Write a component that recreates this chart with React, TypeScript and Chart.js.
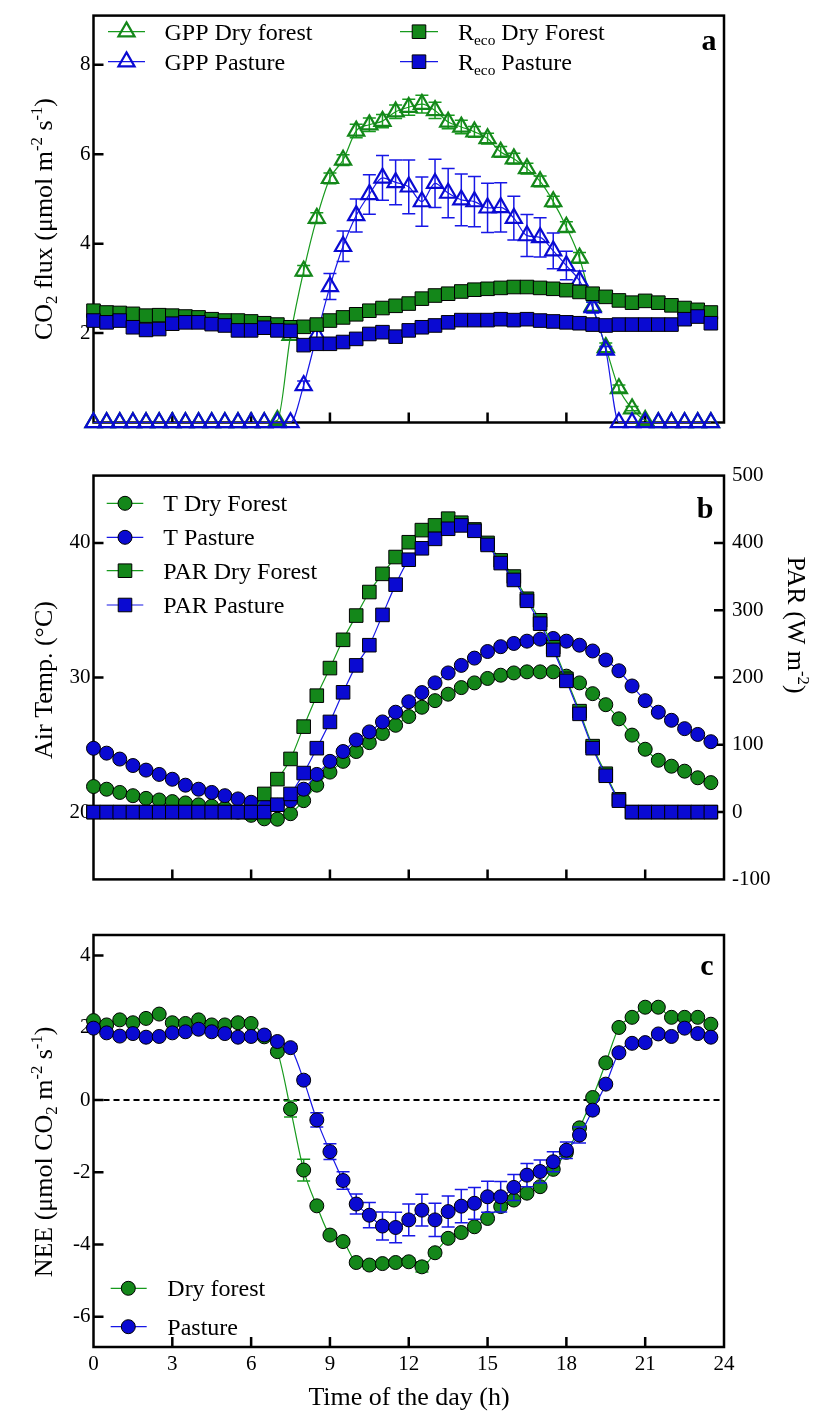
import React, { useEffect, useRef } from "react";
import { Chart, registerables } from "chart.js";
Chart.register(...registerables);

const FONT = "'Liberation Serif', 'Times New Roman', Times, serif";
const GREEN = "#14871a";
const BLUE = "#0a0ad2";
const GREEN_LINE = "#179a1d";
const BLUE_LINE = "#1717e6";

// ---------- data ----------
const hours = [0, 0.5, 1, 1.5, 2, 2.5, 3, 3.5, 4, 4.5, 5, 5.5, 6, 6.5, 7, 7.5, 8, 8.5, 9, 9.5, 10, 10.5, 11, 11.5, 12, 12.5, 13, 13.5, 14, 14.5, 15, 15.5, 16, 16.5, 17, 17.5, 18, 18.5, 19, 19.5, 20, 20.5, 21, 21.5, 22, 22.5, 23, 23.5];

const xTicks = [0, 3, 6, 9, 12, 15, 18, 21, 24];
const yTicksA = [2, 4, 6, 8];
const yTicksB = [20, 30, 40];
const parTicks = [-100, 0, 100, 200, 300, 400, 500];
const yTicksC = [-6, -4, -2, 0, 2, 4];

// panel a
const gppDry = [0, 0, 0, 0, 0, 0, 0, 0, 0, 0, 0, 0, 0, 0, 0.05, 1.95, 3.39, 4.57, 5.46, 5.87, 6.52, 6.66, 6.74, 6.95, 7.05, 7.12, 6.98, 6.72, 6.61, 6.5, 6.35, 6.05, 5.9, 5.68, 5.39, 4.94, 4.37, 3.68, 2.6, 1.68, 0.76, 0.31, 0.05, 0, 0, 0, 0, 0];
const gppDryErr = [0, 0, 0, 0, 0, 0, 0, 0, 0, 0, 0, 0, 0, 0, 0, 0.1, 0.12, 0.12, 0.12, 0.12, 0.15, 0.15, 0.15, 0.15, 0.18, 0.2, 0.18, 0.15, 0.15, 0.12, 0.12, 0.12, 0.12, 0.12, 0.12, 0.12, 0.12, 0.12, 0.1, 0.1, 0.08, 0.05, 0, 0, 0, 0, 0, 0];
const gppPasture = [0, 0, 0, 0, 0, 0, 0, 0, 0, 0, 0, 0, 0, 0, 0, 0, 0.83, 1.95, 3.04, 3.94, 4.63, 5.1, 5.47, 5.37, 5.27, 4.94, 5.35, 5.13, 4.98, 4.94, 4.8, 4.81, 4.57, 4.18, 4.14, 3.84, 3.51, 3.17, 2.57, 1.62, 0, 0, 0, 0, 0, 0, 0, 0];
const gppPastureErr = [0, 0, 0, 0, 0, 0, 0, 0, 0, 0, 0, 0, 0, 0, 0, 0, 0.1, 0.2, 0.29, 0.34, 0.37, 0.44, 0.5, 0.5, 0.6, 0.55, 0.54, 0.55, 0.58, 0.56, 0.55, 0.55, 0.49, 0.47, 0.44, 0.4, 0.32, 0.22, 0.12, 0.08, 0, 0, 0, 0, 0, 0, 0, 0];
const recoDry = [2.5, 2.46, 2.45, 2.43, 2.39, 2.4, 2.39, 2.37, 2.35, 2.31, 2.28, 2.28, 2.26, 2.22, 2.19, 2.13, 2.14, 2.19, 2.28, 2.35, 2.42, 2.5, 2.56, 2.61, 2.66, 2.77, 2.84, 2.88, 2.93, 2.97, 2.99, 3.01, 3.03, 3.03, 3.01, 2.99, 2.96, 2.92, 2.88, 2.81, 2.73, 2.68, 2.72, 2.68, 2.62, 2.56, 2.52, 2.46];
const recoPasture = [2.28, 2.24, 2.28, 2.13, 2.07, 2.09, 2.21, 2.24, 2.24, 2.2, 2.17, 2.06, 2.06, 2.12, 2.06, 2.05, 1.73, 1.76, 1.76, 1.8, 1.87, 1.98, 2.02, 1.92, 2.06, 2.13, 2.17, 2.24, 2.29, 2.29, 2.29, 2.31, 2.29, 2.31, 2.28, 2.26, 2.24, 2.22, 2.19, 2.17, 2.19, 2.19, 2.19, 2.19, 2.19, 2.31, 2.37, 2.22];

// panel b
const tDry = [21.9, 21.7, 21.46, 21.22, 21.02, 20.9, 20.78, 20.68, 20.54, 20.44, 20.29, 20.0, 19.76, 19.5, 19.47, 19.88, 20.85, 22.0, 22.97, 23.77, 24.5, 25.16, 25.84, 26.45, 27.1, 27.79, 28.28, 28.76, 29.25, 29.6, 29.93, 30.17, 30.34, 30.42, 30.42, 30.42, 30.1, 29.6, 28.8, 27.98, 26.93, 25.72, 24.67, 23.85, 23.41, 23.04, 22.55, 22.19];
const tPasture = [24.74, 24.38, 23.94, 23.46, 23.12, 22.8, 22.44, 22.0, 21.7, 21.46, 21.22, 20.98, 20.73, 20.55, 20.5, 20.85, 21.7, 22.8, 23.77, 24.5, 25.36, 25.96, 26.7, 27.42, 28.2, 28.88, 29.6, 30.34, 30.9, 31.44, 31.93, 32.29, 32.53, 32.7, 32.85, 32.9, 32.7, 32.4, 31.97, 31.3, 30.5, 29.37, 28.28, 27.42, 26.82, 26.2, 25.77, 25.23];
const parDry = [0, 0, 0, 0, 0, 0, 0, 0, 0, 0, 0, 0, 0, 27, 49, 79, 127, 173, 214, 256, 292, 327, 354, 379, 401, 419, 426, 436, 430, 420, 400, 374, 350, 317, 285, 245, 198, 150, 98, 57, 19, 0, 0, 0, 0, 0, 0, 0];
const parPasture = [0, 0, 0, 0, 0, 0, 0, 0, 0, 0, 0, 0, 0, 0, 11, 27, 58, 95, 134, 178, 218, 248, 293, 338, 375, 392, 406, 421, 426, 418, 397, 370, 345, 314, 280, 241, 195, 146, 95, 54, 17, 0, 0, 0, 0, 0, 0, 0];

// panel c
const neeDry = [2.2, 2.08, 2.22, 2.14, 2.26, 2.38, 2.14, 2.12, 2.22, 2.08, 2.08, 2.14, 2.12, 1.75, 1.34, -0.25, -1.94, -2.93, -3.74, -3.92, -4.5, -4.57, -4.53, -4.5, -4.48, -4.62, -4.23, -3.83, -3.67, -3.51, -3.28, -2.95, -2.77, -2.58, -2.4, -1.92, -1.45, -0.77, 0.07, 1.03, 2.01, 2.29, 2.57, 2.57, 2.29, 2.29, 2.29, 2.1];
const neeDryErr = [0.04, 0.04, 0.04, 0.04, 0.04, 0.04, 0.04, 0.04, 0.04, 0.04, 0.04, 0.04, 0.04, 0.05, 0.08, 0.22, 0.3, 0.06, 0.05, 0.05, 0.06, 0.1, 0.1, 0.1, 0.1, 0.14, 0.1, 0.08, 0.08, 0.06, 0.06, 0.06, 0.06, 0.06, 0.06, 0.08, 0.1, 0.1, 0.06, 0.05, 0.05, 0.05, 0.05, 0.05, 0.05, 0.05, 0.05, 0.05];
const neePasture = [1.99, 1.86, 1.77, 1.84, 1.74, 1.76, 1.86, 1.89, 1.96, 1.89, 1.84, 1.74, 1.76, 1.8, 1.62, 1.45, 0.55, -0.55, -1.43, -2.23, -2.88, -3.19, -3.49, -3.53, -3.32, -3.05, -3.32, -3.09, -2.94, -2.86, -2.68, -2.68, -2.42, -2.08, -1.98, -1.71, -1.39, -0.97, -0.28, 0.44, 1.31, 1.57, 1.59, 1.83, 1.76, 1.99, 1.84, 1.74];
const neePastureErr = [0.04, 0.04, 0.04, 0.04, 0.04, 0.04, 0.04, 0.04, 0.04, 0.04, 0.04, 0.04, 0.04, 0.1, 0.08, 0.1, 0.1, 0.2, 0.22, 0.24, 0.28, 0.35, 0.39, 0.42, 0.44, 0.44, 0.46, 0.43, 0.46, 0.44, 0.43, 0.42, 0.36, 0.32, 0.32, 0.28, 0.23, 0.22, 0.1, 0.06, 0.05, 0.05, 0.05, 0.05, 0.05, 0.05, 0.1, 0.05];

// ---------- helpers ----------
type Seg = [string, number]; // 0 normal, 1 sup, -1 sub
type Mk = { style: string; r: number; fill: string; stroke: string; bw: number; line: string };

const MK: Record<string, Mk> = {
  gppDry: { style: "triangle", r: 9.3, fill: "rgba(0,0,0,0)", stroke: GREEN, bw: 2.2, line: GREEN_LINE },
  gppPasture: { style: "triangle", r: 9.3, fill: "rgba(0,0,0,0)", stroke: BLUE, bw: 2.2, line: BLUE_LINE },
  sqDry: { style: "rect", r: 9.6, fill: GREEN, stroke: "#000", bw: 1, line: GREEN_LINE },
  sqPasture: { style: "rect", r: 9.6, fill: BLUE, stroke: "#000", bw: 1, line: BLUE_LINE },
  ciDry: { style: "circle", r: 7, fill: GREEN, stroke: "#000", bw: 1, line: GREEN_LINE },
  ciPasture: { style: "circle", r: 7, fill: BLUE, stroke: "#000", bw: 1, line: BLUE_LINE },
};

function font(size: number, bold = false) {
  return `${bold ? "bold " : ""}${size}px ${FONT}`;
}

function richWidth(ctx: CanvasRenderingContext2D, segs: Seg[], size: number) {
  let w = 0;
  for (const [t, k] of segs) {
    ctx.font = font(k ? size * 0.64 : size);
    w += ctx.measureText(t).width;
  }
  return w;
}

function drawRich(ctx: CanvasRenderingContext2D, segs: Seg[], x: number, y: number, size: number, align: string) {
  const w = richWidth(ctx, segs, size);
  let cx = align === "center" ? x - w / 2 : x;
  ctx.textAlign = "left";
  ctx.textBaseline = "alphabetic";
  ctx.fillStyle = "#000";
  for (const [t, k] of segs) {
    const fs = k ? size * 0.64 : size;
    ctx.font = font(fs);
    const dy = k === 1 ? -size * 0.4 : k === -1 ? size * 0.2 : 0;
    ctx.fillText(t, cx, y + dy);
    cx += ctx.measureText(t).width;
  }
}

function drawMarker(ctx: CanvasRenderingContext2D, m: Mk, x: number, y: number) {
  ctx.beginPath();
  if (m.style === "circle") ctx.arc(x, y, m.r, 0, Math.PI * 2);
  else if (m.style === "rect") {
    const s = m.r * Math.SQRT1_2;
    ctx.rect(x - s, y - s, 2 * s, 2 * s);
  } else {
    let rad = 0;
    ctx.moveTo(x + Math.sin(rad) * m.r, y - Math.cos(rad) * m.r);
    rad += (2 * Math.PI) / 3;
    ctx.lineTo(x + Math.sin(rad) * m.r, y - Math.cos(rad) * m.r);
    rad += (2 * Math.PI) / 3;
    ctx.lineTo(x + Math.sin(rad) * m.r, y - Math.cos(rad) * m.r);
    ctx.closePath();
  }
  ctx.fillStyle = m.fill;
  ctx.fill();
  ctx.lineWidth = m.bw;
  ctx.strokeStyle = m.stroke;
  ctx.stroke();
}

function makeDs(label: string, values: number[], m: Mk, yAxisID = "y") {
  return {
    label,
    data: hours.map((h, i) => ({ x: h, y: values[i] })),
    yAxisID,
    borderColor: m.line,
    borderWidth: 1.2,
    pointStyle: m.style,
    pointRadius: m.r,
    pointBorderColor: m.stroke,
    pointBackgroundColor: m.fill,
    pointBorderWidth: m.bw,
    tension: 0.4,
    cubicInterpolationMode: "monotone",
    clip: false,
    fill: false,
  };
}

type LegendItem = { y: number; x1: number; x2: number; xm: number; xt: number; m: Mk; segs: Seg[] };
type Title = { segs: Seg[]; x: number; y: number; rot: number; size: number };
type Deco = {
  yTicks: { id: string; vals: number[]; side: string }[];
  legend: LegendItem[];
  letter: { t: string; x: number; y: number };
  titles: Title[];
  zero?: boolean;
  errs: Record<number, { arr: number[]; color: string }>;
};

function decoPlugin(d: Deco) {
  return {
    id: "deco",
    beforeDatasetsDraw(chart: any) {
      const ctx: CanvasRenderingContext2D = chart.ctx;
      const { left, right, top, bottom } = chart.chartArea;
      ctx.save();
      if (d.zero) {
        const y0 = chart.scales.y.getPixelForValue(0);
        ctx.setLineDash([6, 4]);
        ctx.lineWidth = 2;
        ctx.strokeStyle = "#000";
        ctx.beginPath();
        ctx.moveTo(left, y0);
        ctx.lineTo(right, y0);
        ctx.stroke();
        ctx.setLineDash([]);
      }
      ctx.strokeStyle = "#000";
      ctx.lineWidth = 2.5;
      ctx.strokeRect(left, top, right - left, bottom - top);
      const xs = chart.scales.x;
      ctx.beginPath();
      for (const v of xTicks) {
        if (v <= xs.min || v >= xs.max) continue;
        const px = xs.getPixelForValue(v);
        ctx.moveTo(px, bottom);
        ctx.lineTo(px, bottom - 10);
      }
      for (const yt of d.yTicks) {
        const sc = chart.scales[yt.id];
        for (const v of yt.vals) {
          if (v <= sc.min || v >= sc.max) continue;
          const py = sc.getPixelForValue(v);
          if (yt.side === "left") {
            ctx.moveTo(left, py);
            ctx.lineTo(left + 10, py);
          } else {
            ctx.moveTo(right, py);
            ctx.lineTo(right - 10, py);
          }
        }
      }
      ctx.stroke();
      ctx.restore();
    },
    beforeDatasetDraw(chart: any, args: any) {
      const e = d.errs[args.index];
      if (!e) return;
      const ctx: CanvasRenderingContext2D = chart.ctx;
      const ds = chart.data.datasets[args.index];
      const xs = chart.scales.x;
      const ys = chart.scales[ds.yAxisID || "y"];
      ctx.save();
      ctx.strokeStyle = e.color;
      ctx.lineWidth = 1.5;
      ctx.beginPath();
      ds.data.forEach((p: any, i: number) => {
        const er = e.arr[i];
        if (!er) return;
        const px = xs.getPixelForValue(p.x);
        const y1 = ys.getPixelForValue(p.y + er);
        const y2 = ys.getPixelForValue(p.y - er);
        ctx.moveTo(px, y1);
        ctx.lineTo(px, y2);
        ctx.moveTo(px - 6.5, y1);
        ctx.lineTo(px + 6.5, y1);
        ctx.moveTo(px - 6.5, y2);
        ctx.lineTo(px + 6.5, y2);
      });
      ctx.stroke();
      ctx.restore();
    },
    afterDatasetsDraw(chart: any) {
      const ctx: CanvasRenderingContext2D = chart.ctx;
      ctx.save();
      for (const it of d.legend) {
        ctx.strokeStyle = it.m.line;
        ctx.lineWidth = 1.2;
        ctx.beginPath();
        ctx.moveTo(it.x1, it.y);
        ctx.lineTo(it.x2, it.y);
        ctx.stroke();
        drawMarker(ctx, it.m, it.xm, it.y);
        drawRich(ctx, it.segs, it.xt, it.y + 8, 24, "left");
      }
      ctx.font = font(30, true);
      ctx.fillStyle = "#000";
      ctx.textAlign = "center";
      ctx.textBaseline = "alphabetic";
      ctx.fillText(d.letter.t, d.letter.x, d.letter.y);
      for (const t of d.titles) {
        ctx.save();
        ctx.translate(t.x, t.y);
        if (t.rot) ctx.rotate(t.rot);
        drawRich(ctx, t.segs, 0, 0, t.size, "center");
        ctx.restore();
      }
      ctx.restore();
    },
  };
}

function xScale(height: number, showLabels: boolean) {
  return {
    type: "linear",
    min: 0,
    max: 24,
    grid: { display: false, drawTicks: false },
    border: { display: false },
    afterBuildTicks: (s: any) => {
      s.ticks = xTicks.map((v) => ({ value: v }));
    },
    afterFit: (s: any) => {
      s.height = height;
    },
    ticks: {
      display: showLabels,
      padding: 5,
      color: "#000",
      font: { family: FONT, size: 21 },
      maxRotation: 0,
      autoSkip: false,
      callback: (v: any) => String(v),
    },
  };
}

function yScale(min: number, max: number, vals: number[], width: number, position = "left", padding = 3) {
  return {
    type: "linear",
    position,
    min,
    max,
    grid: { display: false, drawTicks: false },
    border: { display: false },
    afterBuildTicks: (s: any) => {
      s.ticks = vals.map((v) => ({ value: v }));
    },
    afterFit: (s: any) => {
      s.width = width;
    },
    ticks: {
      padding,
      color: "#000",
      font: { family: FONT, size: 21 },
      autoSkip: false,
      callback: (v: any) => String(v),
    },
  };
}

const common = {
  animation: false,
  responsive: false,
  maintainAspectRatio: false,
  devicePixelRatio: 1,
  events: [],
  plugins: { legend: { display: false }, tooltip: { enabled: false } },
};

export default function App() {
  const refA = useRef<HTMLCanvasElement>(null);
  const refB = useRef<HTMLCanvasElement>(null);
  const refC = useRef<HTMLCanvasElement>(null);

  useEffect(() => {
    const charts: Chart[] = [];

    // ---------- panel a ----------
    charts.push(
      new Chart(refA.current as HTMLCanvasElement, {
        type: "line",
        data: {
          datasets: [
            makeDs("Reco Pasture", recoPasture, MK.sqPasture),
            makeDs("Reco Dry Forest", recoDry, MK.sqDry),
            makeDs("GPP Pasture", gppPasture, MK.gppPasture),
            makeDs("GPP Dry forest", gppDry, MK.gppDry),
          ] as any,
        },
        options: {
          ...common,
          layout: { padding: { top: 13, right: 99, left: 0, bottom: 0 } },
          scales: {
            x: xScale(22.5, false),
            y: yScale(0, 9.1, yTicksA, 93.5),
          },
        } as any,
        plugins: [
          decoPlugin({
            yTicks: [{ id: "y", vals: yTicksA, side: "left" }],
            legend: [
              { y: 31.7, x1: 108, x2: 145, xm: 126.5, xt: 164.5, m: MK.gppDry, segs: [["GPP Dry forest", 0]] },
              { y: 61.7, x1: 108, x2: 145, xm: 126.5, xt: 164.5, m: MK.gppPasture, segs: [["GPP Pasture", 0]] },
              { y: 31.7, x1: 400, x2: 438, xm: 419, xt: 458, m: MK.sqDry, segs: [["R", 0], ["eco", -1], [" Dry Forest", 0]] },
              { y: 61.7, x1: 400, x2: 438, xm: 419, xt: 458, m: MK.sqPasture, segs: [["R", 0], ["eco", -1], [" Pasture", 0]] },
            ],
            letter: { t: "a", x: 709, y: 50 },
            titles: [
              {
                segs: [["CO", 0], ["2", -1], [" flux (\u03bcmol m", 0], ["-2", 1], [" s", 0], ["-1", 1], [")", 0]],
                x: 52,
                y: 219,
                rot: -Math.PI / 2,
                size: 26,
              },
            ],
            errs: {
              2: { arr: gppPastureErr, color: BLUE_LINE },
              3: { arr: gppDryErr, color: GREEN_LINE },
            },
          }) as any,
        ],
      })
    );

    // ---------- panel b ----------
    charts.push(
      new Chart(refB.current as HTMLCanvasElement, {
        type: "line",
        data: {
          datasets: [
            makeDs("PAR Pasture", parPasture, MK.sqPasture, "y2"),
            makeDs("PAR Dry Forest", parDry, MK.sqDry, "y2"),
            makeDs("T Pasture", tPasture, MK.ciPasture, "y"),
            makeDs("T Dry Forest", tDry, MK.ciDry, "y"),
          ] as any,
        },
        options: {
          ...common,
          layout: { padding: { top: 20, right: 0, left: 0, bottom: 0 } },
          scales: {
            x: xScale(15, false),
            y: yScale(15, 45, yTicksB, 93.5),
            y2: yScale(-100, 500, parTicks, 99, "right", 8),
          },
        } as any,
        plugins: [
          decoPlugin({
            yTicks: [
              { id: "y", vals: yTicksB, side: "left" },
              { id: "y2", vals: parTicks, side: "right" },
            ],
            legend: [
              { y: 48.3, x1: 106.7, x2: 143.3, xm: 125, xt: 163.3, m: MK.ciDry, segs: [["T Dry Forest", 0]] },
              { y: 82.3, x1: 106.7, x2: 143.3, xm: 125, xt: 163.3, m: MK.ciPasture, segs: [["T Pasture", 0]] },
              { y: 115.7, x1: 106.7, x2: 143.3, xm: 125, xt: 163.3, m: MK.sqDry, segs: [["PAR Dry Forest", 0]] },
              { y: 150, x1: 106.7, x2: 143.3, xm: 125, xt: 163.3, m: MK.sqPasture, segs: [["PAR Pasture", 0]] },
            ],
            letter: { t: "b", x: 705, y: 63 },
            titles: [
              { segs: [["Air Temp. (\u00b0C)", 0]], x: 52, y: 225, rot: -Math.PI / 2, size: 26 },
              { segs: [["PAR (W m", 0], ["-2", 1], [")", 0]], x: 788, y: 170, rot: Math.PI / 2, size: 26 },
            ],
            errs: {},
          }) as any,
        ],
      })
    );

    // ---------- panel c ----------
    charts.push(
      new Chart(refC.current as HTMLCanvasElement, {
        type: "line",
        data: {
          datasets: [
            makeDs("Pasture", neePasture, MK.ciPasture),
            makeDs("Dry forest", neeDry, MK.ciDry),
          ] as any,
        },
        options: {
          ...common,
          layout: { padding: { top: 25, right: 99, left: 0, bottom: 0 } },
          scales: {
            x: xScale(69, true),
            y: yScale(-6.84, 4.57, yTicksC, 93.5),
          },
        } as any,
        plugins: [
          decoPlugin({
            yTicks: [{ id: "y", vals: yTicksC, side: "left" }],
            legend: [
              { y: 378.3, x1: 110.7, x2: 146.7, xm: 128.3, xt: 167.3, m: MK.ciDry, segs: [["Dry forest", 0]] },
              { y: 416.7, x1: 110.7, x2: 146.7, xm: 128.3, xt: 167.3, m: MK.ciPasture, segs: [["Pasture", 0]] },
            ],
            letter: { t: "c", x: 707, y: 65 },
            titles: [
              {
                segs: [["NEE (\u03bcmol CO", 0], ["2", -1], [" m", 0], ["-2", 1], [" s", 0], ["-1", 1], [")", 0]],
                x: 52,
                y: 242,
                rot: -Math.PI / 2,
                size: 26,
              },
              { segs: [["Time of the day (h)", 0]], x: 409, y: 495, rot: 0, size: 26 },
            ],
            zero: true,
            errs: {
              0: { arr: neePastureErr, color: BLUE_LINE },
              1: { arr: neeDryErr, color: GREEN_LINE },
            },
          }) as any,
        ],
      })
    );

    return () => {
      charts.forEach((c) => c.destroy());
    };
  }, []);

  const cs = (top: number, h: number): React.CSSProperties => ({
    position: "absolute",
    left: 0,
    top,
    width: 823,
    height: h,
  });

  return (
    <div style={{ position: "absolute", left: 0, top: 0, width: 823, height: 1416, background: "#fff" }}>
      <canvas ref={refA} width={823} height={445} style={cs(0, 445)} />
      <canvas ref={refB} width={823} height={445} style={cs(455, 445)} />
      <canvas ref={refC} width={823} height={506} style={cs(910, 506)} />
    </div>
  );
}
